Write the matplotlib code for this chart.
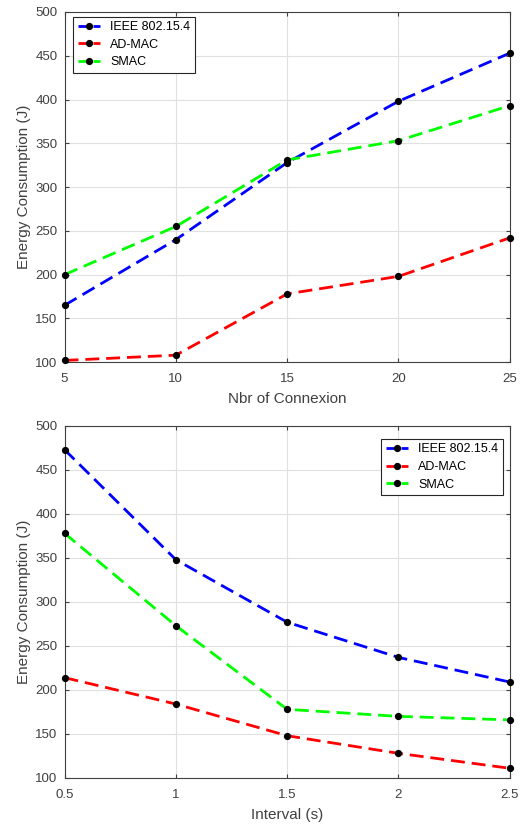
import matplotlib
matplotlib.use("Agg")
import matplotlib.pyplot as plt
from matplotlib.lines import Line2D

plt.rcParams['font.family'] = ['Liberation Sans', 'DejaVu Sans']

series = ["IEEE 802.15.4", "AD-MAC", "SMAC"]
colors = ["#0000ff", "#ff0000", "#00ff00"]

conn = [5, 10, 15, 20, 25]
conn_ieee = [165, 240, 328, 398, 453]
conn_admac = [102, 108, 178, 198, 242]
conn_smac = [200, 255, 331, 353, 393]

interval = [0.5, 1, 1.5, 2, 2.5]
int_ieee = [473, 348, 277, 237, 209]
int_admac = [214, 184, 148, 128, 111]
int_smac = [378, 273, 178, 170, 166]

fig = plt.figure(figsize=(5.25, 8.25), dpi=100)
ax1 = fig.add_axes([0.123, 0.561, 0.848, 0.4245])
ax2 = fig.add_axes([0.123, 0.057, 0.848, 0.4267])

def style(ax, x, ys, xlabel, xticks, xticklabels, legloc, anchor):
    for y, c, lab in zip(ys, colors, series):
        ax.plot(x, y, linestyle=(0, (5, 2.5)), color=c, lw=2.0, marker='o',
                markersize=4, markerfacecolor='k', markeredgecolor='k',
                markeredgewidth=1.2, label=lab, clip_on=False, zorder=3)
    ax.set_xlim(xticks[0], xticks[-1])
    ax.set_ylim(100, 500)
    ax.set_xticks(xticks)
    ax.set_xticklabels(xticklabels)
    ax.set_yticks(range(100, 501, 50))
    ax.grid(True, color='#e0e0e0', lw=0.8)
    ax.set_axisbelow(True)
    ax.tick_params(direction='in', top=True, right=True, labelsize=9.5,
                   colors='#404040', length=3)
    ax.tick_params(axis='x', pad=8)
    ax.tick_params(axis='y', pad=5)
    for s in ax.spines.values():
        s.set_color('#404040')
        s.set_linewidth(0.8)
    ax.set_xlabel(xlabel, fontsize=11, color='#404040', labelpad=5)
    ax.set_ylabel("Energy Consumption (J)", fontsize=11, color='#404040', labelpad=3)
    handles = [Line2D([], [], linestyle=(0, (2.7, 2.7)), color=c, lw=2.0, marker='o',
                      markersize=4, markerfacecolor='k', markeredgecolor='k',
                      markeredgewidth=1.2) for c in colors]
    leg = ax.legend(handles, series, loc=legloc, bbox_to_anchor=anchor, fontsize=9,
                    fancybox=False, edgecolor='#262626', framealpha=1, borderpad=0.35,
                    handlelength=1.8, labelspacing=0.45, handletextpad=0.8,
                    borderaxespad=0)
    leg.get_frame().set_linewidth(0.8)

style(ax1, conn, [conn_ieee, conn_admac, conn_smac], "Nbr of Connexion",
      conn, [str(v) for v in conn], 'upper left', (0.0195, 0.986))
style(ax2, interval, [int_ieee, int_admac, int_smac], "Interval (s)",
      interval, ["0.5", "1", "1.5", "2", "2.5"], 'upper right', (0.984, 0.963))

fig.savefig("out.png", dpi=100)
